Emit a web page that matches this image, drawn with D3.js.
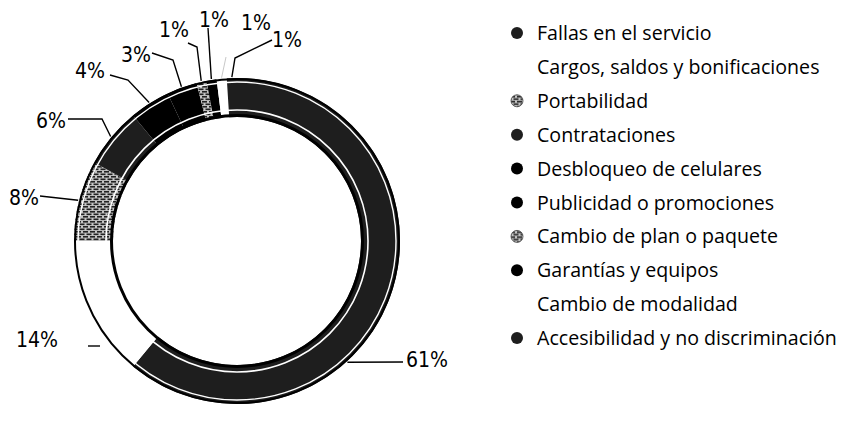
<!DOCTYPE html>
<html lang="es">
<head>
<meta charset="utf-8">
<script src="https://cdn.jsdelivr.net/npm/d3@7"></script>
<style>
  html, body { margin: 0; padding: 0; background: #fff; }
  svg { display: block; }
  .pct { font-family: "DejaVu Sans Condensed", "Liberation Sans Narrow", "DejaVu Sans", sans-serif; font-size: 21px; fill: #000; }
  .leg { font-family: "Open Sans", "Noto Sans", sans-serif; font-size: 19.6px; fill: #000; }
</style>
</head>
<body>
<svg id="chart" width="864" height="423"></svg>
<script>
// Motivos de inconformidad (porcentaje del total)
const categories = [
  "Fallas en el servicio",
  "Cargos, saldos y bonificaciones",
  "Portabilidad",
  "Contrataciones",
  "Desbloqueo de celulares",
  "Publicidad o promociones",
  "Cambio de plan o paquete",
  "Garantías y equipos",
  "Cambio de modalidad",
  "Accesibilidad y no discriminación"
];
const values = [61, 14, 8, 6, 4, 3, 1, 1, 1, 1];
const labels = ["61%", "14%", "8%", "6%", "4%", "3%", "1%", "1%", "1%", "1%"];
// fill style of each slice: dark grey, white, hatched grey or solid black
const tones = ["dark", "white", "hatch", "dark", "black", "black", "hatch", "black", "white", "dark"];

// label placement: where the leader meets the ring (fraction of the slice),
// the elbow of the leader, the end of the leader and the text anchor
const labelLayout = [
  { at: 0.627, elbow: null,      end: [403, 362], text: [406, 367], line: true },
  { at: 0.5,   elbow: null,      end: [88, 346],  text: [16, 347],  line: false, dash: [[88, 346], [100, 346]] },
  { at: 0.5,   elbow: null,      end: [40, 196],  text: [9, 205],   line: true },
  { at: 0.5,   elbow: [102, 119], end: [68, 119], text: [36, 128],  line: true },
  { at: 0.5,   elbow: [128, 80],  end: [110, 75], text: [75, 78],   line: true },
  { at: 0.5,   elbow: [173, 60],  end: [152, 53], text: [121, 62],  line: true },
  { at: 0.5,   elbow: [197, 47],  end: [188, 43], text: [159, 37],  line: true },
  { at: 0.5,   elbow: null,      end: [208, 28],  text: [199, 27],  line: true },
  { at: 0.5,   elbow: null,      end: [226, 57],  text: [241, 30],  line: true, faint: true },
  { at: 0.5,   elbow: [235, 58],  end: [272, 40], text: [272, 47],  line: true }
];

const svg = d3.select("#chart");
const cx = 237, cy = 241;
const rOuter = 163, rInner = 124;

// hatched fill
const defs = svg.append("defs");
const pat = defs.append("pattern")
  .attr("id", "hatch").attr("patternUnits", "userSpaceOnUse")
  .attr("width", 7).attr("height", 5);
pat.append("rect").attr("width", 7).attr("height", 5).attr("fill", "#c4c4c4");
pat.append("rect").attr("x", 0).attr("y", 0).attr("width", 5).attr("height", 1.6).attr("fill", "#222");
pat.append("rect").attr("x", 3.5).attr("y", 2.5).attr("width", 5).attr("height", 1.6).attr("fill", "#222");
pat.append("rect").attr("x", -3.5).attr("y", 2.5).attr("width", 5).attr("height", 1.6).attr("fill", "#222");

const toneFill = d3.scaleOrdinal()
  .domain(["dark", "white", "hatch", "black"])
  .range(["#1e1e1e", "#ffffff", "url(#hatch)", "#000000"]);

const data = categories.map((c, i) => ({ cat: c, value: values[i], label: labels[i], tone: tones[i], i }));

const pie = d3.pie().value(d => d.value).sort(null).startAngle(0).endAngle(2 * Math.PI);
const arcs = pie(data);
const arc = d3.arc().innerRadius(rInner).outerRadius(rOuter);

const g = svg.append("g").attr("transform", `translate(${cx},${cy})`);

g.selectAll("path.slice")
  .data(arcs)
  .join("path")
  .attr("class", "slice")
  .attr("d", arc)
  .attr("fill", d => toneFill(d.data.tone));

// thin white rules running inside the band
g.append("circle").attr("r", rOuter - 4).attr("fill", "none").attr("stroke", "#fff").attr("stroke-width", 1.4);
g.append("circle").attr("r", rInner + 7).attr("fill", "none").attr("stroke", "#fff").attr("stroke-width", 1.6);
// black outlines of the ring
g.append("circle").attr("r", rOuter - 1).attr("fill", "none").attr("stroke", "#000").attr("stroke-width", 2);
g.append("circle").attr("r", rInner + 1.5).attr("fill", "none").attr("stroke", "#000").attr("stroke-width", 3);

// leaders and percentage labels
const ringPoint = (d, at) => {
  const a = d.startAngle + (d.endAngle - d.startAngle) * at;
  const r = rOuter + 1;
  return [cx + r * Math.sin(a), cy - r * Math.cos(a)];
};

const line = d3.line();
arcs.forEach((d, i) => {
  const L = labelLayout[i];
  if (L.line) {
    const pts = [ringPoint(d, L.at)];
    if (L.elbow) pts.push(L.elbow);
    pts.push(L.end);
    svg.append("path")
      .attr("d", line(pts))
      .attr("fill", "none")
      .attr("stroke", L.faint ? "#c8c8c8" : "#000")
      .attr("stroke-width", L.faint ? 1 : 1.4);
  }
  if (L.dash) {
    svg.append("path").attr("d", line(L.dash)).attr("stroke", "#000").attr("stroke-width", 1.4);
  }
  svg.append("text")
    .attr("class", "pct")
    .attr("x", L.text[0]).attr("y", L.text[1])
    .text(d.data.label);
});

// legend
const legX = 517, legY0 = 33, legStep = 33.9;
const leg = svg.append("g");
const rows = leg.selectAll("g.row").data(data).join("g")
  .attr("class", "row")
  .attr("transform", (d, i) => `translate(${legX},${legY0 + i * legStep})`);
rows.filter(d => d.tone !== "white")
  .append("circle")
  .attr("r", 6)
  .attr("fill", d => toneFill(d.tone))
  .attr("stroke", d => d.tone === "hatch" ? "#444" : "none")
  .attr("stroke-width", 0.8);
rows.append("text")
  .attr("class", "leg")
  .attr("x", 20).attr("y", 7)
  .text(d => d.cat);
</script>
</body>
</html>
